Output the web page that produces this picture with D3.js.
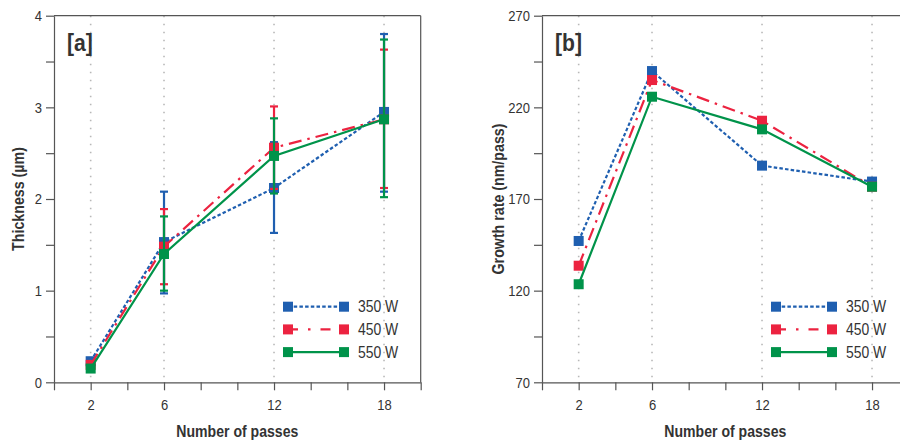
<!DOCTYPE html>
<html><head><meta charset="utf-8">
<script src="https://cdn.jsdelivr.net/npm/d3@7"></script>
<style>
body{margin:0;background:#fff}
svg{display:block}
text{font-family:'Liberation Sans','Arial',sans-serif;fill:#333}
</style>
</head><body><svg id="c" width="900" height="443"></svg>
<script>
// ---- data ----
const passes = [2, 6, 12, 18];
const xTickValues = [0, 2, 4, 6, 8, 10, 12, 14, 16, 18, 20];
const xTickLabels = [2, 6, 12, 18];
const seriesNames = ["350 W", "450 W", "550 W"];
const seriesColors = ["#1f5fb0", "#ec2340", "#00934a"];
const seriesDash = ["3.5,2.2", "13,6,2.5,6", null];

const thick350 = [0.23, 1.53, 2.12, 2.95];
const thick450 = [0.19, 1.48, 2.56, 2.87];
const thick550 = [0.15, 1.40, 2.47, 2.87];
const thick350Low = [0.20, 0.97, 1.63, 2.08];
const thick350High = [0.26, 2.08, 2.62, 3.80];
const thick450Low = [0.16, 1.07, 2.11, 2.12];
const thick450High = [0.22, 1.89, 3.01, 3.63];
const thick550Low = [0.12, 1.00, 2.06, 2.02];
const thick550High = [0.18, 1.81, 2.88, 3.74];

const growth350 = [147.1, 239.8, 188.2, 179.5];
const growth450 = [133.6, 234.9, 212.7, 176.7];
const growth550 = [123.5, 225.8, 208.0, 176.7];

const thickTicks = [0, 1, 2, 3, 4];
const thickMinor = [0.5, 1.5, 2.5, 3.5];
const growthTicks = [70, 120, 170, 220, 270];
const growthMinor = [95, 145, 195, 245];

// ---- drawing ----
const svg = d3.select("#c");
const axisColor = "#555";

// horizontally condense text about its own anchor point (imitates a narrow typeface)
function condense(sel, f) {
  sel.each(function () {
    const t = d3.select(this);
    const x = +(t.attr("x") || 0), y = +(t.attr("y") || 0);
    const prev = t.attr("transform") || "";
    t.attr("transform", `${prev} translate(${x},${y}) scale(${f},1) translate(${-x},${-y})`);
  });
}

function panel(opts) {
  const g = svg.append("g");
  const x = d3.scaleLinear().domain([0, 20]).range([opts.left, opts.left + 366.7]);
  const y = d3.scaleLinear().domain(opts.yDomain).range([382.3, 15.7]);

  // dotted vertical grid
  g.selectAll("line.grid").data(passes).enter().append("line")
    .attr("x1", d => x(d)).attr("x2", d => x(d))
    .attr("y1", y.range()[1]).attr("y2", y.range()[0])
    .attr("stroke", "#b8b8b8").attr("stroke-width", 1.6)
    .attr("stroke-dasharray", "1.6,6.4");

  // x axis
  const xAxis = d3.axisBottom(x).tickValues(xTickValues).tickSizeInner(8).tickSizeOuter(0)
    .tickFormat(d => xTickLabels.includes(d) ? d : "");
  const gx = g.append("g").attr("transform", `translate(0,${y.range()[0]})`).call(xAxis);
  gx.select(".domain").attr("stroke", axisColor).attr("stroke-width", 1.2);
  gx.selectAll(".tick line").attr("stroke", axisColor).attr("stroke-width", 1.2);
  gx.selectAll(".tick text").attr("font-size", 15.5).attr("dy", "1.05em").attr("fill", "#333")
    .style("font-family", "'Liberation Sans',Arial,sans-serif");
  condense(gx.selectAll(".tick text"), 0.84);

  // y axis
  const yAxis = d3.axisLeft(y).tickValues(opts.yTicks).tickSizeInner(8).tickSizeOuter(0).tickPadding(4)
    .tickFormat(d3.format("d"));
  const gy = g.append("g").attr("transform", `translate(${x(0)},0)`).call(yAxis);
  gy.select(".domain").attr("stroke", axisColor).attr("stroke-width", 1.2);
  gy.selectAll(".tick line").attr("stroke", axisColor).attr("stroke-width", 1.2);
  gy.selectAll(".tick text").attr("font-size", 15.5).attr("fill", "#333")
    .style("font-family", "'Liberation Sans',Arial,sans-serif");
  condense(gy.selectAll(".tick text"), 0.84);
  const gyMinor = g.append("g").attr("transform", `translate(${x(0)},0)`)
    .call(d3.axisLeft(y).tickValues(opts.yMinor).tickSizeInner(8).tickSizeOuter(0).tickFormat(""));
  gyMinor.select(".domain").remove();
  gyMinor.selectAll(".tick line").attr("stroke", axisColor).attr("stroke-width", 1.2);

  // top border (and right border)
  g.append("line").attr("x1", x(0)).attr("x2", x(20)).attr("y1", y.range()[1]).attr("y2", y.range()[1])
    .attr("stroke", axisColor).attr("stroke-width", 1.2);
  g.append("line").attr("x1", x(20)).attr("x2", x(20)).attr("y1", y.range()[1]).attr("y2", y.range()[0])
    .attr("stroke", axisColor).attr("stroke-width", 1.2);

  // series
  const line = d3.line().x(d => x(d[0])).y(d => y(d[1]));
  opts.series.forEach((vals, i) => {
    const pts = passes.map((p, j) => [p, vals[j]]);
    g.append("path").datum(pts).attr("d", line).attr("fill", "none")
      .attr("stroke", seriesColors[i]).attr("stroke-width", 2.2)
      .attr("stroke-dasharray", seriesDash[i]);
    if (opts.errLow) {
      const lo = opts.errLow[i], hi = opts.errHigh[i];
      passes.forEach((p, j) => {
        const cx = x(p);
        g.append("line").attr("x1", cx).attr("x2", cx).attr("y1", y(lo[j])).attr("y2", y(hi[j]))
          .attr("stroke", seriesColors[i]).attr("stroke-width", 2.2);
        [lo[j], hi[j]].forEach(v => {
          g.append("line").attr("x1", cx - 4).attr("x2", cx + 4).attr("y1", y(v)).attr("y2", y(v))
            .attr("stroke", seriesColors[i]).attr("stroke-width", 2.2);
        });
      });
    }
    g.selectAll(null).data(pts).enter().append("rect")
      .attr("x", d => x(d[0]) - 5).attr("y", d => y(d[1]) - 5)
      .attr("width", 10).attr("height", 10).attr("fill", seriesColors[i]);
  });

  // legend
  const lx1 = x(0) + 234, lx2 = x(0) + 290, ltx = x(0) + 304;
  seriesNames.forEach((name, i) => {
    const ly = 306.7 + i * 22.7;
    g.append("line").attr("x1", lx1).attr("x2", lx2).attr("y1", ly).attr("y2", ly)
      .attr("stroke", seriesColors[i]).attr("stroke-width", 2.2).attr("stroke-dasharray", i === 1 ? "10,10,2.5,10" : seriesDash[i]);
    [lx1, lx2].forEach(cx => g.append("rect").attr("x", cx - 5).attr("y", ly - 5).attr("width", 10).attr("height", 10).attr("fill", seriesColors[i]));
    const t = g.append("text").attr("x", ltx).attr("y", ly).attr("dy", "0.36em").attr("font-size", 16).text(name);
    condense(t, 0.87);
  });

  // panel label
  const tag = g.append("text").attr("x", x(0) + 13).attr("y", 51).attr("font-size", 24).attr("font-weight", "bold")
    .attr("fill", "#222").text(opts.tag);
  condense(tag, 0.88);

  // axis titles
  const xt = g.append("text").attr("x", (x(0) + x(20)) / 2).attr("y", 437).attr("text-anchor", "middle")
    .attr("font-size", 16).attr("font-weight", "bold").attr("fill", "#222").text("Number of passes");
  condense(xt, 0.88);
  const yt = g.append("text").attr("transform", `translate(${opts.ytx},199) rotate(-90)`).attr("text-anchor", "middle")
    .attr("font-size", 16).attr("font-weight", "bold").attr("fill", "#222").text(opts.yTitle);
  condense(yt, 0.89);
}

panel({
  left: 54, yDomain: [0, 4], yTicks: thickTicks, yMinor: thickMinor,
  series: [thick350, thick450, thick550],
  errLow: [thick350Low, thick450Low, thick550Low],
  errHigh: [thick350High, thick450High, thick550High],
  tag: "[a]", yTitle: "Thickness (µm)", ytx: 24
});
panel({
  left: 542, yDomain: [70, 270], yTicks: growthTicks, yMinor: growthMinor,
  series: [growth350, growth450, growth550],
  tag: "[b]", yTitle: "Growth rate (nm/pass)", ytx: 504
});
</script>
</body></html>
